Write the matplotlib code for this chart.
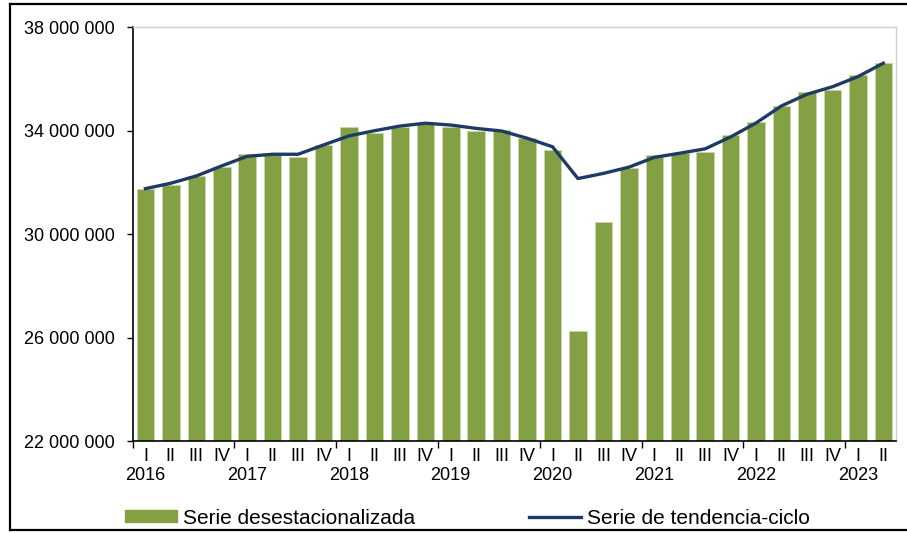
import numpy as np
import matplotlib
matplotlib.use("Agg")
from matplotlib import pyplot as plt
from matplotlib.lines import Line2D
from matplotlib.patches import Patch
from matplotlib.transforms import blended_transform_factory

plt.rcParams['font.family'] = ['Liberation Sans', 'DejaVu Sans']

years = ["2016", "2017", "2018", "2019", "2020", "2021", "2022", "2023"]
quarters = ["I", "II", "III", "IV"]

# seasonally adjusted series (bars)
desestacionalizada = [
    31.74, 31.90, 32.26, 32.59,
    33.09, 33.05, 33.00, 33.44,
    34.16, 33.92, 34.13, 34.31,
    34.13, 34.00, 34.03, 33.71,
    33.26, 26.27, 30.46, 32.55,
    33.06, 33.12, 33.18, 33.85,
    34.35, 34.96, 35.50, 35.59,
    36.14, 36.62,
]
# trend-cycle series (line)
tendencia_ciclo = [
    31.76, 31.97, 32.25, 32.64,
    33.01, 33.09, 33.09, 33.45,
    33.80, 34.00, 34.18, 34.29,
    34.22, 34.09, 33.99, 33.71,
    33.38, 32.15, 32.35, 32.59,
    32.97, 33.13, 33.30, 33.76,
    34.30, 34.96, 35.41, 35.70,
    36.09, 36.61,
]

bars = np.array(desestacionalizada) * 1e6
trend = np.array(tendencia_ciclo) * 1e6
n = len(bars)
x = np.arange(n)

fig = plt.figure(figsize=(9.07, 5.33), dpi=100)
ax = fig.add_axes([132.7 / 907, 1 - 441 / 533, (896 - 132.7) / 907, (441 - 27.3) / 533])

ax.bar(x, bars, width=0.69, color="#84A044", edgecolor="#C9D8A8", linewidth=0.6, zorder=2)
ax.plot(x, trend, color="#1F3A64", linewidth=2.4, zorder=3)

ax.set_xlim(-0.5, n - 0.5)
ax.set_ylim(22e6, 38e6)
yt = np.arange(22e6, 38e6 + 1, 4e6)
ax.set_yticks(yt)
ax.set_yticklabels([f"{int(v):,}".replace(",", " ") for v in yt])
ax.tick_params(axis="y", length=4, width=1, pad=9, labelsize=13, colors="black")

# quarter labels under each bar, year under the first quarter
ax.set_xticks(x)
ax.set_xticklabels([quarters[i % 4] for i in range(n)])
ax.tick_params(axis="x", which="major", length=0, pad=5, labelsize=13)
ax.set_xticks(np.arange(-0.5, n, 4), minor=True)
ax.tick_params(axis="x", which="minor", length=5, width=1)

trans = blended_transform_factory(ax.transData, fig.transFigure)
for k, yr in enumerate(years):
    ax.text(k * 4, 1 - 475 / 533, yr, transform=trans, ha="center", va="center",
            fontsize=13)

for s in ["left", "bottom"]:
    ax.spines[s].set_color("black")
    ax.spines[s].set_linewidth(1.2)
for s in ["top", "right"]:
    ax.spines[s].set_color("#D0D0D0")
    ax.spines[s].set_linewidth(1.0)

handles = [
    Patch(facecolor="#84A044", edgecolor="#84A044"),
    Line2D([0], [0], color="#1F3A64", linewidth=2.4),
]
fig.legend(handles, ["Serie desestacionalizada", "Serie de tendencia-ciclo"],
           loc="center left", bbox_to_anchor=(125 / 907, 1 - 518 / 533),
           ncol=2, frameon=False, fontsize=15, borderpad=0, borderaxespad=0,
           handlelength=2.5, handleheight=0.5, handletextpad=0.3, columnspacing=5.45)

# outer frame
fig.add_artist(Line2D([10 / 907, 10 / 907], [1 - 4 / 533, 1 - 530 / 533],
                      transform=fig.transFigure, color="black", linewidth=1.6))
fig.add_artist(Line2D([10 / 907, 1.0], [1 - 4 / 533, 1 - 4 / 533],
                      transform=fig.transFigure, color="black", linewidth=1.6))
fig.add_artist(Line2D([10 / 907, 1.0], [1 - 530 / 533, 1 - 530 / 533],
                      transform=fig.transFigure, color="black", linewidth=1.6))

fig.savefig("out.png", dpi=100)
